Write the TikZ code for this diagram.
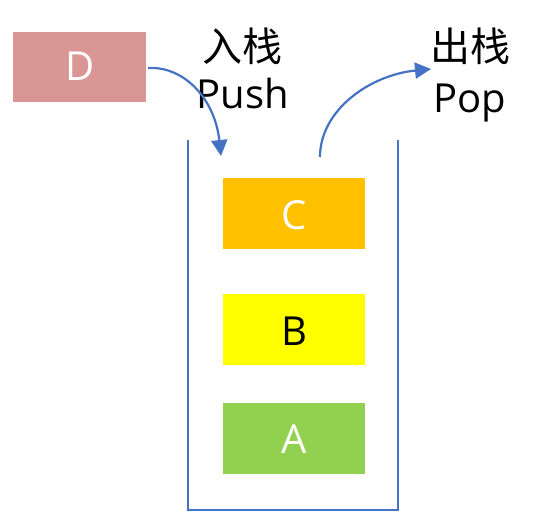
\documentclass[tikz,border=0pt]{standalone}
\usepackage{fontspec}
\setmainfont{Open Sans}
\newfontfamily\cjkfont{Noto Sans CJK SC}
\usetikzlibrary{arrows.meta}
\definecolor{stackblue}{HTML}{4472C4}
\definecolor{dred}{HTML}{D99694}
\definecolor{corange}{HTML}{FFC000}
\definecolor{byellow}{HTML}{FFFF00}
\definecolor{agreen}{HTML}{92D050}
\begin{document}
\begin{tikzpicture}[x=1pt,y=-1pt,
  item/.style={rectangle,inner sep=0pt,minimum width=142pt,minimum height=71pt},
  letter/.style={inner sep=0pt,anchor=base,font=\fontsize{40}{42}\selectfont},
  lbl/.style={inner sep=0pt,anchor=base,font=\fontsize{40}{42}\selectfont},
  cjk/.style={inner sep=0pt,anchor=base,font=\cjkfont\fontsize{40}{42}\selectfont},
  arr/.style={draw=stackblue,line width=2.2pt,-{Triangle[length=16pt,width=16pt]}}]
\useasboundingbox (0,0) rectangle (558,528);
% container
\coordinate (tl) at (188,140);
\coordinate (bl) at (188,510);
\coordinate (br) at (398,510);
\coordinate (tr) at (398,140);
\draw[stackblue,line width=2.2pt] (tl) -- (bl) -- (br) -- (tr);
% boxes
\node[item,fill=dred,minimum width=133pt,minimum height=70pt] (D) at (79.5,67) {};
\node[item,fill=corange] (C) at (294,213.5) {};
\node[item,fill=byellow] (B) at (294,329) {};
\node[item,fill=agreen] (A) at (294,438) {};
\node[letter,text=white] (Dl) at (80,80) {D};
\node[letter,text=white] (Cl) at (294,229) {C};
\node[letter,text=black] (Bl) at (294,345) {B};
\node[letter,text=white] (Al) at (294,453) {A};
% labels
\node[cjk] (push1) at (242,61) {入栈};
\node[lbl] (push2) at (243,108) {Push};
\node[cjk] (pop1) at (470,61) {出栈};
\node[lbl] (pop2) at (470,112) {Pop};
% arrows
\coordinate (pushs) at (148,68);
\coordinate (pushe) at (221,156);
\coordinate (pops) at (320,157);
\coordinate (pope) at (431,69);
\draw[arr] (pushs) .. controls (185,66) and (215,100) .. (pushe);
\draw[arr] (pops) .. controls (320,110) and (370,75) .. (pope);
\end{tikzpicture}
\end{document}
